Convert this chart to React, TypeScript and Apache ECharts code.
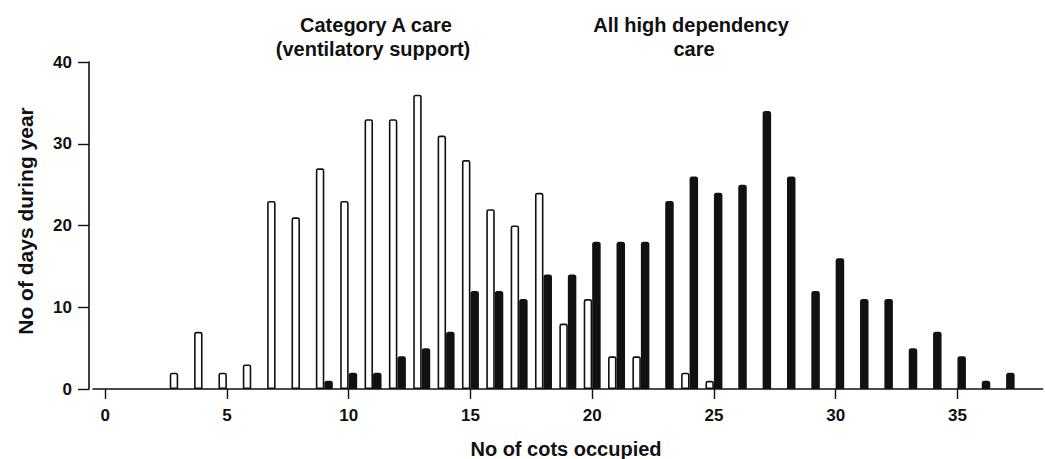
import React, { useEffect, useRef } from "react";
import * as echarts from "echarts";

// No of cots occupied (x axis categories)
const cots: string[] = [
  "0", "1", "2", "3", "4", "5", "6", "7", "8", "9",
  "10", "11", "12", "13", "14", "15", "16", "17", "18", "19",
  "20", "21", "22", "23", "24", "25", "26", "27", "28", "29",
  "30", "31", "32", "33", "34", "35", "36", "37", "38",
];

// Category A care (ventilatory support) – white bars, days during year
const categoryA: (number | null)[] = [
  null, null, null, 2, 7, 2, 3, 23, 21, 27,
  23, 33, 33, 36, 31, 28, 22, 20, 24, 8,
  11, 4, 4, null, 2, 1, null, null, null, null,
  null, null, null, null, null, null, null, null, null,
];

// All high dependency care – black bars, days during year
const allHighDependency: (number | null)[] = [
  null, null, null, null, null, null, null, null, null, 1,
  2, 2, 4, 5, 7, 12, 12, 11, 14, 14,
  18, 18, 18, 23, 26, 24, 25, 34, 26, 12,
  16, 11, 11, 5, 7, 4, 1, 2, null,
];

const yTicks = { min: 0, max: 40, interval: 10 };
const xLabelStep = 5;

const FONT = '"Liberation Sans", Arial, Helvetica, sans-serif';
const INK = "#111";

export default function App() {
  const ref = useRef<HTMLDivElement>(null);

  useEffect(() => {
    if (!ref.current) return;
    const chart = echarts.init(ref.current, null, { renderer: "svg" });
    const showEvery = (index: number) => index % xLabelStep === 0 && index <= 35;

    chart.setOption({
      animation: false,
      backgroundColor: "#fff",
      grid: { left: 93, top: 62, height: 327, width: 949.65 },
      xAxis: {
        type: "category",
        data: cots,
        boundaryGap: true,
        axisLine: { show: true, lineStyle: { color: INK, width: 1.6 } },
        axisTick: {
          show: true,
          alignWithLabel: true,
          interval: (index: number) => showEvery(index),
          length: 10,
          lineStyle: { color: INK, width: 1.4 },
        },
        axisLabel: {
          interval: (index: number) => showEvery(index),
          margin: 18,
          color: INK,
          fontFamily: FONT,
          fontWeight: "bold",
          fontSize: 17,
        },
        splitLine: { show: false },
      },
      yAxis: {
        type: "value",
        min: yTicks.min,
        max: yTicks.max,
        interval: yTicks.interval,
        offset: 4,
        axisLine: { show: true, lineStyle: { color: INK, width: 1.6 } },
        axisTick: { show: true, length: 11, lineStyle: { color: INK, width: 1.4 } },
        axisLabel: {
          margin: 17,
          color: INK,
          fontFamily: FONT,
          fontWeight: "bold",
          fontSize: 17,
        },
        splitLine: { show: false },
      },
      series: [
        {
          name: "Category A care (ventilatory support)",
          type: "bar",
          data: categoryA,
          barWidth: 8.5,
          barGap: "0%",
          itemStyle: {
            color: "#fff",
            borderColor: INK,
            borderWidth: 1.6,
            borderRadius: [1.5, 1.5, 0, 0],
          },
        },
        {
          name: "All high dependency care",
          type: "bar",
          data: allHighDependency,
          barWidth: 8.5,
          barGap: "0%",
          itemStyle: {
            color: INK,
            borderRadius: [2.5, 2.5, 0, 0],
          },
        },
      ],
      graphic: [
        {
          type: "text",
          x: 376,
          y: 25,
          style: {
            text: "Category A care",
            font: `bold 20px ${FONT}`,
            fill: INK,
            textAlign: "center",
            textVerticalAlign: "middle",
          },
        },
        {
          type: "text",
          x: 373,
          y: 49,
          style: {
            text: "(ventilatory support)",
            font: `bold 20px ${FONT}`,
            fill: INK,
            textAlign: "center",
            textVerticalAlign: "middle",
          },
        },
        {
          type: "text",
          x: 691,
          y: 25,
          style: {
            text: "All high dependency",
            font: `bold 20px ${FONT}`,
            fill: INK,
            textAlign: "center",
            textVerticalAlign: "middle",
          },
        },
        {
          type: "text",
          x: 694,
          y: 49,
          style: {
            text: "care",
            font: `bold 20px ${FONT}`,
            fill: INK,
            textAlign: "center",
            textVerticalAlign: "middle",
          },
        },
        {
          type: "text",
          x: 566,
          y: 449,
          style: {
            text: "No of cots occupied",
            font: `bold 20px ${FONT}`,
            fill: INK,
            textAlign: "center",
            textVerticalAlign: "middle",
          },
        },
        {
          type: "text",
          x: 25,
          y: 221,
          rotation: Math.PI / 2,
          style: {
            text: "No of days during year",
            font: `bold 21px ${FONT}`,
            fill: INK,
            textAlign: "center",
            textVerticalAlign: "middle",
          },
        },
      ],
    });

    return () => chart.dispose();
  }, []);

  return (
    <div
      ref={ref}
      style={{ position: "fixed", left: 0, top: 0, width: 1045, height: 459, background: "#fff" }}
    />
  );
}
